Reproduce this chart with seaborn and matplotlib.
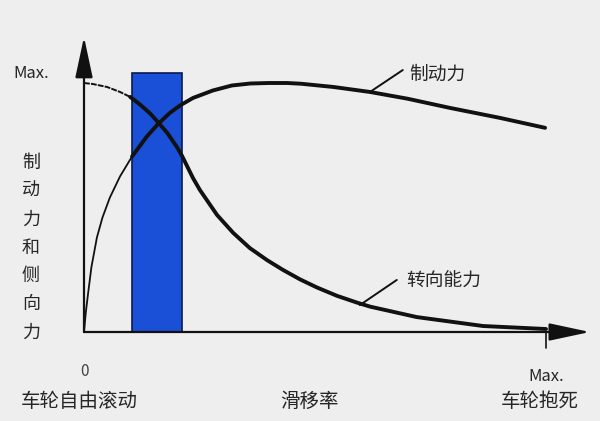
import matplotlib
matplotlib.use('Agg')
import matplotlib.pyplot as plt
import seaborn as sns
import pandas as pd

# slip ratio (0 = free rolling, 1 = wheel locked) vs force (1 = Max.)
braking_x = [0.0, 0.004, 0.009, 0.016, 0.028, 0.040, 0.056, 0.078, 0.104,
             0.136, 0.160, 0.186, 0.208, 0.236, 0.279, 0.320, 0.360, 0.400,
             0.440, 0.470, 0.540, 0.619, 0.700, 0.792, 0.900, 0.998]
braking_y = [0.0, 0.08, 0.157, 0.26, 0.38, 0.46, 0.54, 0.625, 0.705,
             0.785, 0.835, 0.88, 0.91, 0.94, 0.97, 0.99, 0.998, 1.0,
             1.0, 0.997, 0.984, 0.964, 0.937, 0.90, 0.86, 0.82]

lateral_x = [0.0, 0.019, 0.050, 0.078, 0.100, 0.121, 0.143, 0.160, 0.180,
             0.201, 0.212, 0.236, 0.251, 0.288, 0.323, 0.359, 0.396, 0.431,
             0.468, 0.504, 0.548, 0.591, 0.619, 0.720, 0.864, 1.0]
lateral_y = [1.0, 0.996, 0.984, 0.964, 0.944, 0.914, 0.878, 0.843, 0.800,
             0.743, 0.708, 0.618, 0.570, 0.470, 0.398, 0.337, 0.289, 0.249,
             0.211, 0.179, 0.145, 0.118, 0.102, 0.060, 0.024, 0.012]

# optimal slip band (blue box)
band_left = 0.104
band_right = 0.212
band_top = 1.04

curve_labels = ['制动力', '转向能力']
y_label = '制动力和侧向力'
x_label = '滑移率'
x_start_label = '车轮自由滚动'
x_end_label = '车轮抱死'

sns.set_theme(style='white')
plt.rcParams['font.family'] = ['Noto Sans CJK SC', 'DejaVu Sans']
bg = '#eeeeee'
ink = '#111111'

fig = plt.figure(figsize=(6, 4.21), dpi=100, facecolor=bg)
ax = fig.add_axes([0, 0, 1, 1])
ax.set_facecolor(bg)
ax.set_xlim(-84 / 462, 516 / 462)
ax.set_ylim(-89 / 249, 332 / 249)
ax.axis('off')

# blue band
ax.bar(band_left, band_top, width=band_right - band_left, align='edge',
       color='#1a4fd8', edgecolor='#0a1a50', linewidth=1.2, zorder=2)

df_b = pd.DataFrame({'x': braking_x, 'y': braking_y})
df_l = pd.DataFrame({'x': lateral_x, 'y': lateral_y})

# thin early part, thick once the curve reaches the band
sns.lineplot(data=df_b.iloc[:9], x='x', y='y', sort=False, estimator=None,
             color=ink, linewidth=1.3, ax=ax, zorder=3)
sns.lineplot(data=df_b.iloc[8:], x='x', y='y', sort=False, estimator=None,
             color=ink, linewidth=2.8, ax=ax, zorder=3)
sns.lineplot(data=df_l.iloc[:5], x='x', y='y', sort=False, estimator=None,
             color=ink, linewidth=1.4, linestyle=(0, (3, 0.6)), ax=ax, zorder=3)
sns.lineplot(data=df_l.iloc[4:], x='x', y='y', sort=False, estimator=None,
             color=ink, linewidth=2.8, ax=ax, zorder=3)

# axes with arrows
arrow = dict(arrowstyle='-|>,head_length=1.4,head_width=0.3', color=ink,
             linewidth=1.6, shrinkA=0, shrinkB=0, mutation_scale=18)
ax.annotate('', xy=(0, 1.185), xytext=(0, 0), arrowprops=arrow, zorder=4)
ax.annotate('', xy=(1.095, 0), xytext=(0, 0), arrowprops=arrow, zorder=4)
ax.plot([1.0, 1.0], [0, -0.065], color=ink, linewidth=1.2)

# curve labels with leader lines
ax.plot([0.619, 0.690], [0.964, 1.052], color=ink, linewidth=1.4)
ax.text(0.703, 1.035, curve_labels[0], fontsize=13.5, va='center', ha='left')
ax.plot([0.597, 0.677], [0.108, 0.209], color=ink, linewidth=1.4)
ax.text(0.697, 0.203, curve_labels[1], fontsize=13.5, va='center', ha='left')

# axis texts
ax.text(-0.152, 1.04, 'Max.', fontsize=12, va='center', ha='left')
ax.text(0.0, -0.16, '0', fontsize=11, va='center', ha='center', color='#444444')
ax.text(1.0, -0.18, 'Max.', fontsize=12, va='center', ha='center')
ax.text(-0.01, -0.28, x_start_label, fontsize=14, va='center', ha='center')
ax.text(0.489, -0.28, x_label, fontsize=14, va='center', ha='center')
ax.text(0.987, -0.28, x_end_label, fontsize=14, va='center', ha='center')

for i, ch in enumerate(y_label):
    ax.text(-0.115, 0.679 - i * 0.1137, ch, fontsize=13, va='center', ha='center')

fig.savefig('out.png', dpi=100, facecolor=bg)
